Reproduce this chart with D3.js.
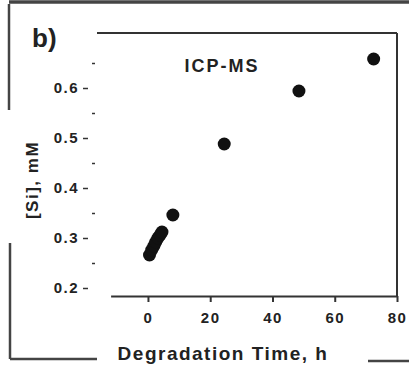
<!DOCTYPE html>
<html>
<head>
<meta charset="utf-8">
<script src="https://cdn.jsdelivr.net/npm/d3@7"></script>
<style>
  body { margin: 0; background: #fff; }
  text { font-family: "Liberation Sans", Arial, sans-serif; font-weight: bold; fill: #222; }
</style>
</head>
<body>
<div class="canvas"></div>
<script>
// degradation data
const timeH = [0.5, 1.2, 1.9, 2.5, 3.2, 3.9, 4.5, 8, 24.5, 48.5, 72.5];
const siMM = [0.266, 0.276, 0.284, 0.292, 0.300, 0.306, 0.312, 0.346, 0.488, 0.594, 0.658];
const xTicks = [0, 20, 40, 60, 80];
const yTicks = [0.2, 0.3, 0.4, 0.5, 0.6];
const yMinorTicks = [0.25, 0.35, 0.45, 0.55, 0.65];

const W = 409, H = 367;
const plot = { left: 97, axisLeft: 110.6, right: 397, top: 33, bottom: 296 };

const svg = d3.select('.canvas')
  .append('svg')
  .attr('width', W)
  .attr('height', H);

const x = d3.scaleLinear().domain([-12, 80]).range([plot.axisLeft, plot.right]);
const y = d3.scaleLinear().domain([0.184, 0.71]).range([plot.bottom, plot.top]);

// outer panel frame (partial, like the scan)
const frame = svg.append('g').attr('stroke', '#444').attr('stroke-width', 2.5).attr('fill', 'none');
frame.append('line').attr('x1', 9).attr('x2', W).attr('y1', 2).attr('y2', 2).attr('stroke-width', 3.5);
frame.append('line').attr('x1', 9).attr('x2', 9).attr('y1', 4).attr('y2', 110);
frame.append('line').attr('x1', 10).attr('x2', 10).attr('y1', 243).attr('y2', 359);
frame.append('line').attr('x1', 10).attr('x2', 97).attr('y1', 359).attr('y2', 359);
frame.append('line').attr('x1', 368).attr('x2', W).attr('y1', 361).attr('y2', 361);

// top and right borders of the plot box
svg.append('line')
  .attr('x1', plot.left).attr('x2', plot.right)
  .attr('y1', plot.top).attr('y2', plot.top)
  .attr('stroke', '#333').attr('stroke-width', 2);
svg.append('line')
  .attr('x1', plot.right).attr('x2', plot.right)
  .attr('y1', plot.top).attr('y2', plot.bottom)
  .attr('stroke', '#333').attr('stroke-width', 2);

// x axis
const xAxis = svg.append('g')
  .attr('transform', `translate(0, ${plot.bottom})`)
  .call(d3.axisBottom(x).tickValues(xTicks).tickSize(6).tickSizeOuter(0).tickPadding(10));
xAxis.select('.domain').attr('stroke', '#333').attr('stroke-width', 2);
xAxis.selectAll('.tick line').attr('stroke', '#333').attr('stroke-width', 2);
xAxis.selectAll('text').style('font-size', '15px').attr('letter-spacing', 1.5).attr('fill', '#222');

// y axis: no spine, major ticks with labels and small minor ticks
const yAxis = svg.append('g')
  .attr('transform', `translate(88, 0)`)
  .call(d3.axisLeft(y).tickValues(yTicks).tickFormat(d3.format('.1f')).tickSize(5).tickPadding(4));
yAxis.select('.domain').remove();
yAxis.selectAll('.tick line').attr('stroke', '#333').attr('stroke-width', 1.5);
yAxis.selectAll('text').style('font-size', '15px').attr('letter-spacing', 1.5).attr('fill', '#222');

const yMinor = svg.append('g')
  .attr('transform', `translate(95, 0)`)
  .call(d3.axisLeft(y).tickValues(yMinorTicks).tickFormat('').tickSize(3));
yMinor.select('.domain').remove();
yMinor.selectAll('.tick line').attr('stroke', '#333').attr('stroke-width', 1.5);

// data points
svg.append('g')
  .selectAll('circle')
  .data(timeH.map((t, i) => ({ t, si: siMM[i] })))
  .enter()
  .append('circle')
    .attr('cx', d => x(d.t))
    .attr('cy', d => y(d.si))
    .attr('r', 6.5)
    .attr('fill', '#111');

// labels
svg.append('text')
  .attr('x', 222).attr('y', 72)
  .attr('text-anchor', 'middle')
  .style('font-size', '18px')
  .attr('letter-spacing', 2)
  .text('ICP-MS');

svg.append('text')
  .attr('x', 32).attr('y', 47)
  .style('font-size', '26px')
  .text('b)');

svg.append('text')
  .attr('transform', 'translate(38, 180) rotate(-90)')
  .attr('text-anchor', 'middle')
  .style('font-size', '17px')
  .attr('letter-spacing', 1.5)
  .text('[Si], mM');

svg.append('text')
  .attr('x', 223).attr('y', 360)
  .attr('text-anchor', 'middle')
  .style('font-size', '19px')
  .attr('letter-spacing', 1.5)
  .text('Degradation Time, h');
</script>
</body>
</html>
